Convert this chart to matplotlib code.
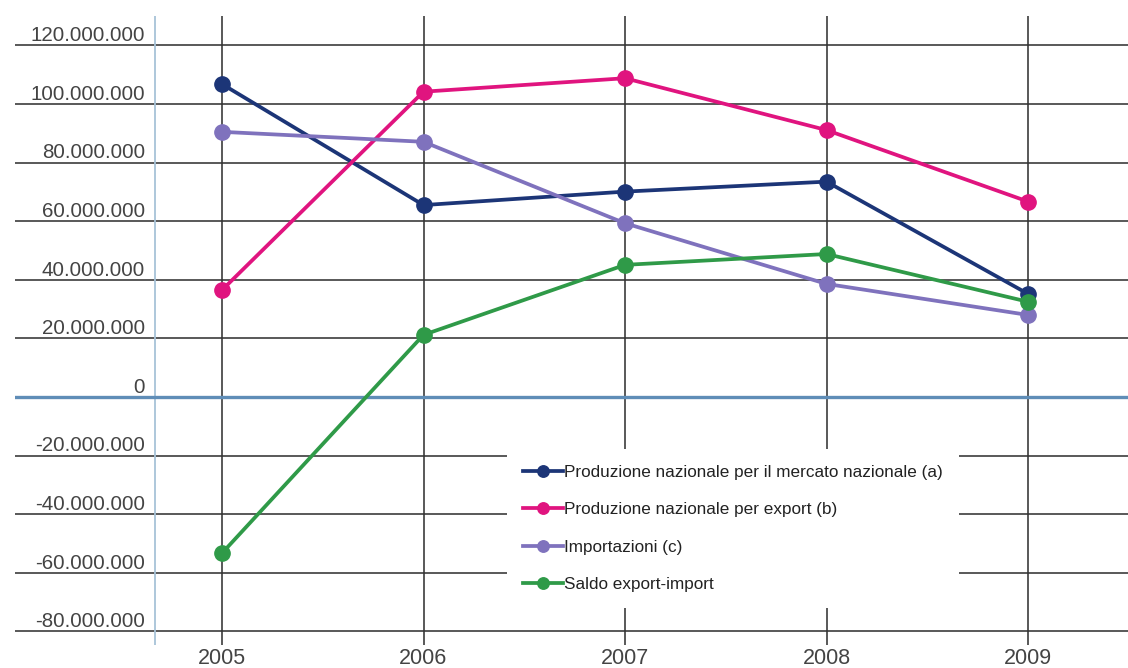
import matplotlib
matplotlib.use("Agg")
import matplotlib.pyplot as plt

plt.rcParams['font.family'] = ['Liberation Sans Narrow', 'Liberation Sans', 'DejaVu Sans']

# valori annuali (euro)
anni = [2005, 2006, 2007, 2008, 2009]
mercato_nazionale = [106.8e6, 65.5e6, 70.1e6, 73.5e6, 35.2e6]
export = [36.5e6, 104.2e6, 108.8e6, 91.1e6, 66.7e6]
importazioni = [90.5e6, 87.1e6, 59.3e6, 38.6e6, 28.0e6]
saldo = [-53.3e6, 21.2e6, 45.1e6, 48.8e6, 32.5e6]

etichette = [
    "Produzione nazionale per il mercato nazionale (a)",
    "Produzione nazionale per export (b)",
    "Importazioni (c)",
    "Saldo export-import",
]
colori = ["#1c3577", "#e0147f", "#7f72bd", "#2f9a48"]
tacche_y = list(range(-80_000_000, 120_000_001, 20_000_000))

W, H = 1128, 668
fig = plt.figure(figsize=(W / 100, H / 100), dpi=100)
left, right, top, bottom = 15, 1128, 16, 645
ax = fig.add_axes([left / W, 1 - bottom / H, (right - left) / W, (bottom - top) / H])

px_anno = 201.5      # pixel per anno
px_mln = 2.93        # pixel per milione
x0_pix, y0_pix = 222, 397
ax.set_xlim(2005 - (x0_pix - left) / px_anno, 2005 + (right - x0_pix) / px_anno)
ax.set_ylim(-(bottom - y0_pix) / px_mln * 1e6, (y0_pix - top) / px_mln * 1e6)

for s in ax.spines.values():
    s.set_visible(False)

ax.set_xticks(anni)
ax.set_xticklabels([str(a) for a in anni], fontsize=15.5, color="#444444")
ax.set_yticks(tacche_y)
ax.set_yticklabels([])
ax.tick_params(length=0, axis="x", pad=2)
ax.tick_params(length=0, axis="y")
ax.grid(True, color="#333333", linewidth=1.15, zorder=1)

# asse verticale azzurro e linea dello zero
xa = (155 - left) / (right - left)
ax.plot([xa, xa], [0, 1], transform=ax.transAxes, color="#a7c3d8", lw=1.3, zorder=2)
ax.axhline(0, color="#5f8db7", lw=2.4, zorder=2)

xl = (145 - left) / (right - left)
for v in tacche_y:
    ax.annotate(f"{v:,}".replace(",", "."), xy=(xl, v), xycoords=ax.get_yaxis_transform(),
                xytext=(0, 3), textcoords="offset points", ha="right", va="baseline",
                fontsize=14.8, color="#444444")

for serie, col, lab in zip([mercato_nazionale, export, importazioni, saldo], colori, etichette):
    ax.plot(anni, serie, color=col, lw=2.7, marker="o", markersize=11, label=lab,
            zorder=3, clip_on=False)

leg = ax.legend(loc="upper left", bbox_to_anchor=(507 / W, 1 - 449 / H),
                bbox_transform=fig.transFigure, fontsize=12.3, frameon=True,
                fancybox=False, framealpha=1, facecolor="white", edgecolor="none",
                borderpad=0.95, borderaxespad=0, handlelength=2.3, handletextpad=0.1,
                labelspacing=1.3, markerscale=0.75)
leg.set_zorder(5)
for t in leg.get_texts():
    t.set_color("#222222")

fig.savefig("out.png", dpi=100)
